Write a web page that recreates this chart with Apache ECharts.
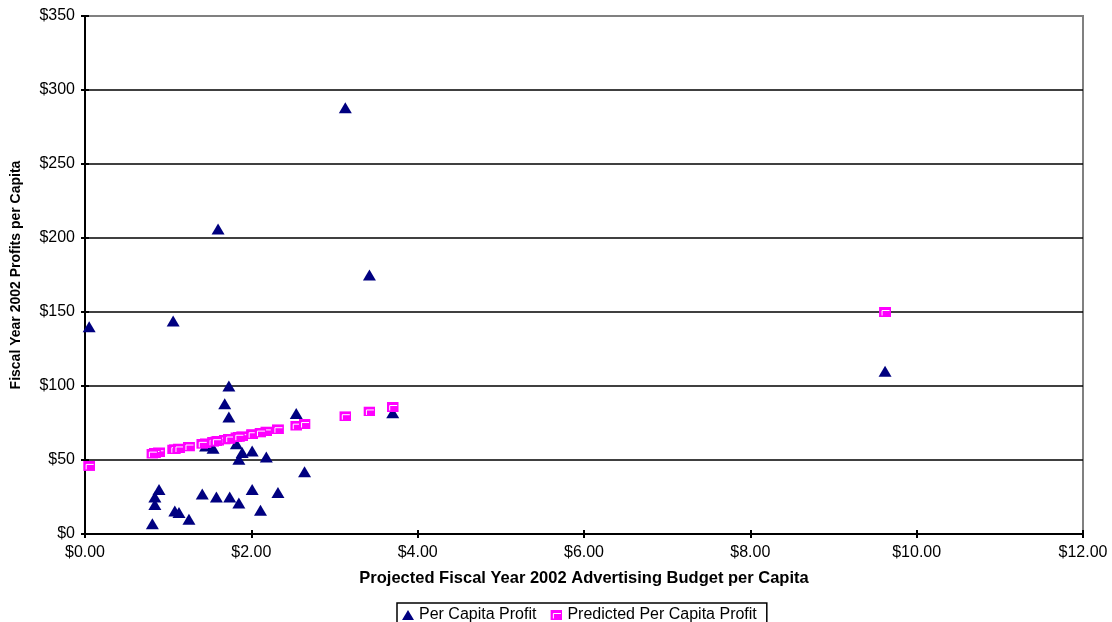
<!DOCTYPE html>
<html>
<head>
<meta charset="utf-8">
<script src="https://cdn.jsdelivr.net/npm/echarts@6/dist/echarts.min.js"></script>
<style>html,body{margin:0;padding:0;background:#fff;}#c{width:1112px;height:622px;}</style>
</head>
<body>
<div id="c"></div>
<script>
// Projected FY2002 advertising budget per capita ($)
var budget = [0.05, 1.06, 1.60, 3.13, 3.42, 9.62, 1.73, 1.68, 1.73, 2.54, 3.70,
  2.64, 2.18, 2.01, 1.85, 1.89, 1.82, 1.45, 1.54, 0.89, 0.84, 0.84, 0.81,
  1.08, 1.13, 1.25, 1.41, 1.58, 1.74, 1.85, 2.01, 2.11, 2.32];
// FY2002 profit per capita ($)
var profit = [140, 144, 206, 288, 175, 110, 100, 88, 79, 81.5, 82,
  42, 52, 56, 50.5, 55, 61, 59.5, 58, 30, 25, 20, 7,
  15.5, 14.6, 10, 27, 25, 25, 21, 30, 16, 28];
// Predicted profit per capita ($)
var predicted = [46.0, 57.1, 63.0, 79.6, 82.8, 150.0, 64.4, 63.8, 64.4, 73.2, 85.8,
  74.3, 69.3, 67.4, 65.7, 66.1, 65.3, 61.3, 62.3, 55.2, 54.7, 54.7, 54.3,
  57.3, 57.8, 59.1, 60.9, 62.7, 64.5, 65.7, 67.4, 68.5, 70.8];
var seriesNames = ['Per Capita Profit', 'Predicted Per Capita Profit'];
var xTitle = 'Projected Fiscal Year 2002 Advertising Budget per Capita';
var yTitle = 'Fiscal Year 2002 Profits per Capita';

var FONT = 'Liberation Sans, Arial, sans-serif';
var sq = "<svg xmlns='http://www.w3.org/2000/svg' width='12' height='10'><rect width='12' height='10' fill='#FF00FF'/><path d='M3 8.5V3.5H10.5' stroke='#ffffff' stroke-width='1' fill='none'/></svg>";
var sqSymbol = 'image://data:image/svg+xml;charset=utf-8,' + encodeURIComponent(sq);

function pairs(xs, ys) { return xs.map(function (x, i) { return [x, ys[i]]; }); }

var chart = echarts.init(document.getElementById('c'));
chart.setOption({
  animation: false,
  backgroundColor: '#fff',
  grid: { left: 85, top: 16, right: 29, bottom: 88, show: true, borderColor: '#808080', borderWidth: 2, backgroundColor: 'transparent' },
  legend: {
    left: 397, top: 603,
    borderColor: '#000', borderWidth: 1.5,
    padding: [4, 10, 6, 5],
    itemGap: 14, itemWidth: 12, itemHeight: 10,
    textStyle: { fontFamily: FONT, fontSize: 16, color: '#000' },
    data: [
      { name: seriesNames[0], icon: 'triangle' },
      { name: seriesNames[1], icon: sqSymbol }
    ]
  },
  xAxis: [{
    type: 'value', min: 0, max: 12, interval: 2,
    name: xTitle, nameLocation: 'middle', nameGap: 36,
    nameTextStyle: { fontFamily: FONT, fontSize: 16.5, fontWeight: 'bold', color: '#000' },
    axisLine: { show: true, lineStyle: { color: '#000', width: 2 } },
    axisTick: { show: true, length: 4, lineStyle: { color: '#000', width: 2 } },
    axisLabel: { fontFamily: FONT, fontSize: 16, color: '#000', margin: 11,
      formatter: function (v) { return '$' + v.toFixed(2); } },
    splitLine: { show: false }
  }, {
    type: 'value', min: 0, max: 12, interval: 2, position: 'bottom',
    axisLine: { show: false },
    axisTick: { show: true, inside: true, length: 4, lineStyle: { color: '#000', width: 2 } },
    axisLabel: { show: false }, splitLine: { show: false }
  }],
  yAxis: [{
    type: 'value', min: 0, max: 350, interval: 50,
    name: yTitle, nameLocation: 'middle', nameGap: 62, nameRotate: 90,
    nameTextStyle: { fontFamily: FONT, fontSize: 14, fontWeight: 'bold', color: '#000' },
    axisLine: { show: true, lineStyle: { color: '#000', width: 2 } },
    axisTick: { show: true, length: 4, lineStyle: { color: '#000', width: 2 } },
    axisLabel: { fontFamily: FONT, fontSize: 16, color: '#000', margin: 10,
      formatter: function (v) { return '$' + v; } },
    splitLine: { show: true, lineStyle: { width: 1.5,
      color: ['#000', '#000', '#000', '#000', '#000', '#000', '#000', '#808080'] } }
  }, {
    type: 'value', min: 0, max: 350, interval: 50, position: 'left',
    axisLine: { show: false },
    axisTick: { show: true, inside: true, length: 4, lineStyle: { color: '#000', width: 2 } },
    axisLabel: { show: false }, splitLine: { show: false }
  }],
  series: [{
    name: seriesNames[0], type: 'scatter',
    symbol: 'triangle', symbolSize: [13, 11],
    itemStyle: { color: '#000080', opacity: 1 },
    data: pairs(budget, profit)
  }, {
    name: seriesNames[1], type: 'scatter',
    symbol: sqSymbol, symbolSize: [12, 10],
    itemStyle: { color: '#FF00FF', opacity: 1 },
    data: pairs(budget, predicted)
  }]
});
</script>
</body>
</html>
